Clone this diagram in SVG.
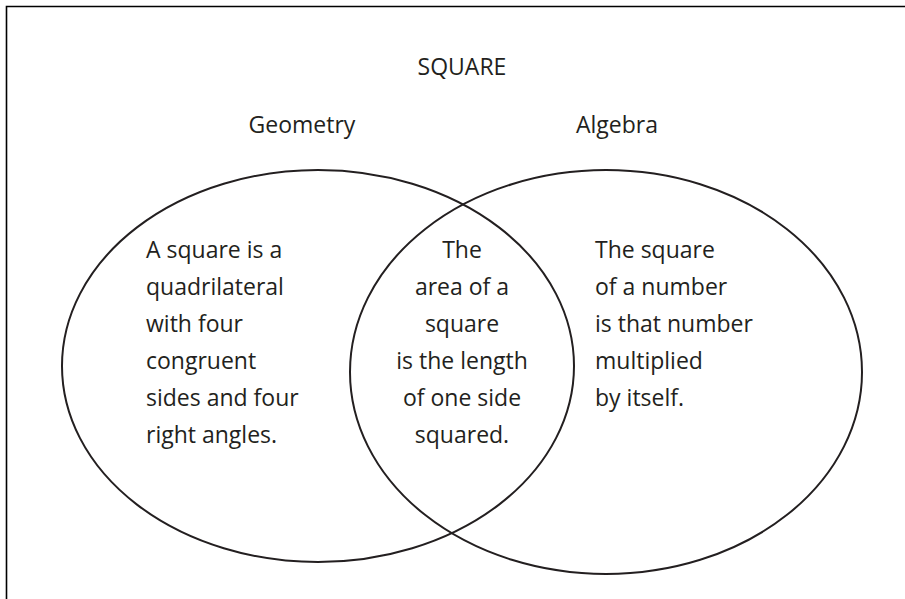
<svg xmlns="http://www.w3.org/2000/svg" width="905" height="599" viewBox="0 0 905 599">
<style>
.t{font-family:"Open Sans","Liberation Sans",sans-serif;font-size:23px;fill:#231f20}
.c{text-anchor:middle}
.e{fill:none;stroke:#231f20;stroke-width:2}
</style>
<rect width="905" height="599" fill="#fff"/>
<path d="M6.5 599 V6.5 H905" fill="none" stroke="#000" stroke-width="1.6"/>
<text class="t c" x="462" y="75">SQUARE</text>
<g id="geometry">
<ellipse class="e" cx="318" cy="366" rx="256" ry="196"/>
<text class="t c" x="302" y="133">Geometry</text>
<text class="t" x="146"><tspan x="146" y="258">A square is a</tspan><tspan x="146" y="295">quadrilateral</tspan><tspan x="146" y="332">with four</tspan><tspan x="146" y="369">congruent</tspan><tspan x="146" y="406">sides and four</tspan><tspan x="146" y="443">right angles.</tspan></text>
</g>
<g id="algebra">
<ellipse class="e" cx="606" cy="372" rx="256" ry="202"/>
<text class="t c" x="617" y="133">Algebra</text>
<text class="t"><tspan x="595" y="258">The square</tspan><tspan x="595" y="295">of a number</tspan><tspan x="595" y="332">is that number</tspan><tspan x="595" y="369">multiplied</tspan><tspan x="595" y="406">by itself.</tspan></text>
</g>
<g id="overlap">
<text class="t c"><tspan x="462" y="258">The</tspan><tspan x="462" y="295">area of a</tspan><tspan x="462" y="332">square</tspan><tspan x="462" y="369">is the length</tspan><tspan x="462" y="406">of one side</tspan><tspan x="462" y="443">squared.</tspan></text>
</g>
</svg>
